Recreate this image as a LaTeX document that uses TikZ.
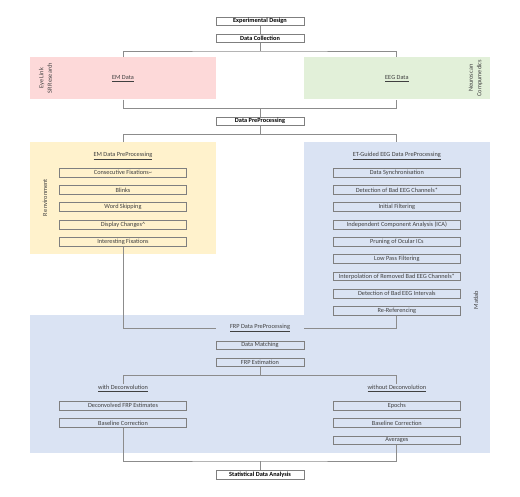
\documentclass[tikz,border=0pt]{standalone}
\usepackage{fontspec}
\setmainfont{Carlito}
\usetikzlibrary{calc}
\definecolor{pinkreg}{HTML}{FDD9D9}
\definecolor{greenreg}{HTML}{E2F0D9}
\definecolor{yellowreg}{HTML}{FFF2CC}
\definecolor{bluereg}{HTML}{DAE3F3}
\definecolor{edgegray}{HTML}{7F7F7F}
\definecolor{txtgray}{HTML}{404040}
\tikzset{
  topbox/.style={draw=edgegray, line width=0.7pt, fill=white, minimum width=88, minimum height=8.6, inner sep=0pt, font=\fontsize{6.3}{7}\selectfont\bfseries, text=black},
  subbox/.style={draw=edgegray, line width=0.7pt, minimum width=127, minimum height=8.8, inner sep=0pt, font=\fontsize{6.3}{7}\selectfont, text=txtgray},
  region/.style={inner sep=0pt, draw=none},
  ttl/.style={inner sep=0pt, minimum height=9.4, font=\fontsize{6.3}{7}\selectfont, text=txtgray},
  sidelbl/.style={rotate=90, align=center, inner sep=0pt, font=\fontsize{6.3}{8.5}\selectfont, text=txtgray},
  conn/.style={draw=edgegray!90, line width=0.75pt}
}
\begin{document}
\begin{tikzpicture}[x=1pt,y=-1pt]
\useasboundingbox (0,0) rectangle (520,496);
% regions
\node[region, fill=pinkreg, minimum width=186, minimum height=42] (emdata) at (123,78.3) {};
\node[region, fill=greenreg, minimum width=186.3, minimum height=42] (eegdata) at (396.85,78.3) {};
\node[region, fill=yellowreg, minimum width=186, minimum height=111.7] (emreg) at (123,198.15) {};
\node[region, fill=bluereg, minimum width=186.3, minimum height=173.2] (eegreg) at (396.85,228.7) {};
\node[region, fill=bluereg, minimum width=460, minimum height=138] (frpreg) at (260,384) {};
% labels in regions
\node[ttl] (emdatat) at (123,78.3) {\underline{EM Data}};
\node[ttl] (eegdatat) at (396.85,78.3) {\underline{EEG Data}};
\node[sidelbl] (eyelink) at (45.5,78.3) {Eye Link\\SR Research};
\node[sidelbl] (neuro) at (475.5,78.3) {Neuroscan\\Compumedics};
\node[sidelbl] (renv) at (45,198) {R environment};
\node[sidelbl] (matlab) at (476,300) {Matlab};
% top boxes
\node[topbox] (ed) at (260,21.3) {Experimental Design};
\node[topbox] (dc) at (260,38.5) {Data Collection};
\node[topbox] (dpp) at (260,121.2) {Data PreProcessing};
\node[topbox] (sda) at (260,474.9) {Statistical Data Analysis};
% EM preprocessing
\node[ttl] (emppt) at (123,156) {\underline{EM Data PreProcessing}};
\node[subbox] (cf) at (123,172.6) {Consecutive Fixations\textasciitilde};
\node[subbox] (bl) at (123,189.9) {Blinks};
\node[subbox] (ws) at (123,207.2) {Word Skipping};
\node[subbox] (dch) at (123,224.5) {Display Changes\textasciicircum};
\node[subbox] (intfix) at (123,241.8) {Interesting Fixations};
% EEG preprocessing
\node[ttl] (eegppt) at (396.85,156) {\underline{ET-Guided EEG Data PreProcessing}};
\node[subbox] (ds) at (396.85,172.6) {Data Synchronisation};
\node[subbox] (dbc) at (396.85,189.9) {Detection of Bad EEG Channels*};
\node[subbox] (inf) at (396.85,207.2) {Initial Filtering};
\node[subbox] (ica) at (396.85,224.5) {Independent Component Analysis (ICA)};
\node[subbox] (poi) at (396.85,241.8) {Pruning of Ocular ICs};
\node[subbox] (lpf) at (396.85,259.1) {Low Pass Filtering};
\node[subbox] (irb) at (396.85,276.4) {Interpolation of Removed Bad EEG Channels*};
\node[subbox] (dbi) at (396.85,293.7) {Detection of Bad EEG Intervals};
\node[subbox] (reref) at (396.85,311) {Re-Referencing};
% FRP
\node[ttl, minimum width=88] (frpt) at (260,328) {\underline{FRP Data PreProcessing}};
\node[topbox, font=\fontsize{6.3}{7}\selectfont, text=txtgray, fill=none] (dm) at (260,345.2) {Data Matching};
\node[topbox, font=\fontsize{6.3}{7}\selectfont, text=txtgray, fill=none] (frpe) at (260,362.5) {FRP Estimation};
\node[ttl] (withd) at (123,388.7) {\underline{with Deconvolution}};
\node[ttl] (withoutd) at (396.85,388.7) {\underline{without Deconvolution}};
\node[subbox] (dfe) at (123,405.8) {Deconvolved FRP Estimates};
\node[subbox] (blcl) at (123,423.1) {Baseline Correction};
\node[subbox] (ep) at (396.85,405.8) {Epochs};
\node[subbox] (blcr) at (396.85,423.1) {Baseline Correction};
\node[subbox] (avg) at (396.85,440.4) {Averages};
% bracket coordinates
\coordinate (b1) at (260,51);
\coordinate (b2) at (260,108.3);
\coordinate (b3) at (260,134.3);
\coordinate (b4) at (260,375.7);
\coordinate (b5) at (260,461);
% connectors
\draw[conn] (ed) -- (dc);
\draw[conn] (dc) -- (b1);
\draw[conn] (emdata.north) |- (b1) -| (eegdata.north);
\draw[conn] (emdata.south) |- (b2) -| (eegdata.south);
\draw[conn] (b2) -- (dpp);
\draw[conn] (dpp) -- (b3);
\draw[conn] (emreg.north) |- (b3) -| (eegreg.north);
\draw[conn] (intfix.south) |- (frpt.west);
\draw[conn] (reref.south) |- (frpt.east);
\draw[conn] (frpe) -- (b4);
\draw[conn] (withd.north) |- (b4) -| (withoutd.north);
\draw[conn] (blcl.south) |- (b5) -| (avg.south);
\draw[conn] (b5) -- (sda);
\end{tikzpicture}
\end{document}
